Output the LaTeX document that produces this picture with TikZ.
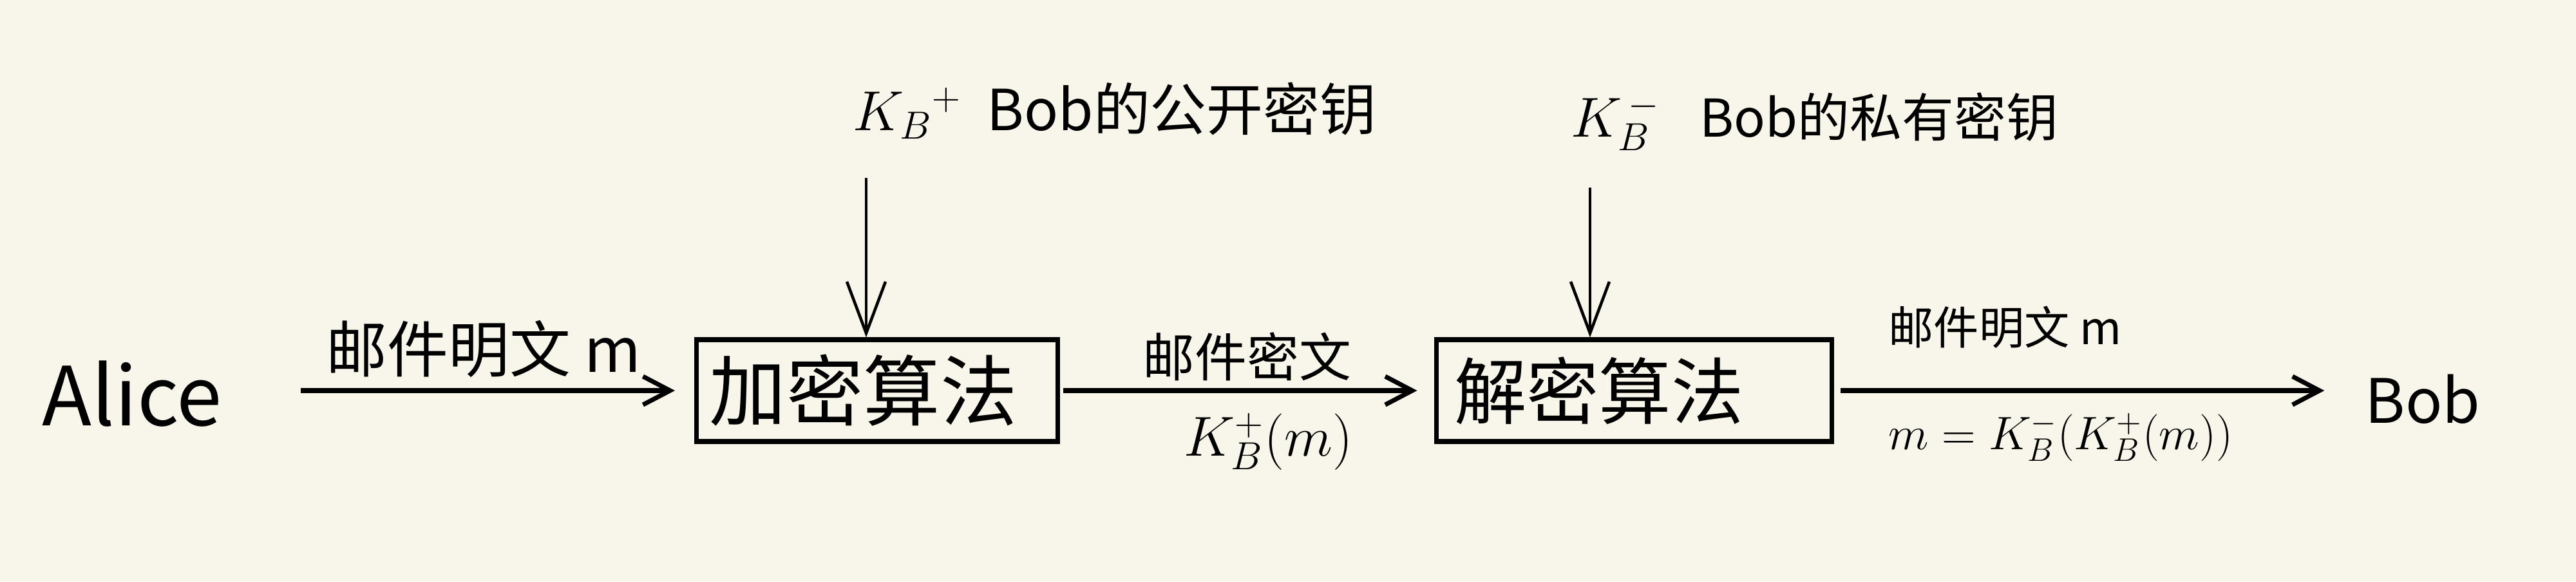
\documentclass[tikz,border=0pt]{standalone}
\usepackage{fontspec}
\setmainfont{Noto Sans CJK SC}
\usetikzlibrary{arrows.meta}
\definecolor{paper}{HTML}{F8F6EA}

\begin{document}
\begin{tikzpicture}[-{Straight Barb[length=0.42cm,width=0.44cm]}, line width=2pt,
algo/.style ={draw, line width=2pt, minimum height=1.58cm, align=left, inner ysep=0pt},
party/.style ={inner sep=0pt, text depth=0pt},
keyline/.style ={-{Straight Barb[length=0.8cm,width=0.6cm]}, line width=1.3pt}]

\fill[paper,-] (0,0) rectangle (40,9.02);
\useasboundingbox (0,0) rectangle (40,9.02);

\node[party,text height=1.08cm,font=\fontsize{36}{40}\selectfont] (alice) at (2.05,2.96) {Alice};
\node[algo,inner xsep=0.2cm,text width=5.21cm,font=\fontsize{34}{38}\selectfont] (enc) at (13.62,2.96) {加密算法};
\node[algo,inner xsep=0.28cm,text width=5.58cm,font=\fontsize{32}{36}\selectfont] (dec) at (25.37,2.96) {解密算法};
\node[party,text height=1.0cm,font=\fontsize{27}{31}\selectfont] (bob) at (37.62,2.96) {Bob};

% keys
\node[anchor=base west,inner sep=0pt,font=\fontsize{25}{28}\selectfont] (pubkey) at (13.21,7.0) {{\fontsize{24}{28}\selectfont$K_B{}^{+}$}\hspace{0.4cm}Bob的公开密钥};
\node[anchor=base west,inner sep=0pt,font=\fontsize{23}{26}\selectfont] (privkey) at (24.36,6.9) {$K_B^{\,-}$\hspace{0.62cm}Bob的私有密钥};
\coordinate (pubtop) at (13.45,6.26);
\coordinate (privtop) at (24.69,6.11);
\path (pubtop) edge[keyline] (pubtop |- enc.north);
\path (privtop) edge[keyline] (privtop |- dec.north);

% message flow
\path (alice) edge[shorten <=1.19cm, shorten >=0.3cm] node[above,xshift=0.38cm,yshift=0.05cm,font=\fontsize{27}{30}\selectfont] {邮件明文 m} (enc);
\path (enc) edge[shorten <=0.05cm, shorten >=0.26cm] node[above,font=\fontsize{23}{26}\selectfont] {邮件密文}
  node[below,xshift=0.33cm,yshift=-0.2cm,font=\fontsize{26}{29}\selectfont] {$K_B^+(m)$} (dec);
\path (dec) edge[shorten <=0.1cm, shorten >=0.6cm] node[pos=0.085,anchor=south west,yshift=0.5cm,font=\fontsize{20}{23}\selectfont] {邮件明文 m}
  node[pos=0.085,anchor=north west,yshift=-0.2cm,font=\fontsize{21.5}{24}\selectfont] {$m=K_B^-(K_B^+(m))$} (bob);

\end{tikzpicture}
\end{document}
